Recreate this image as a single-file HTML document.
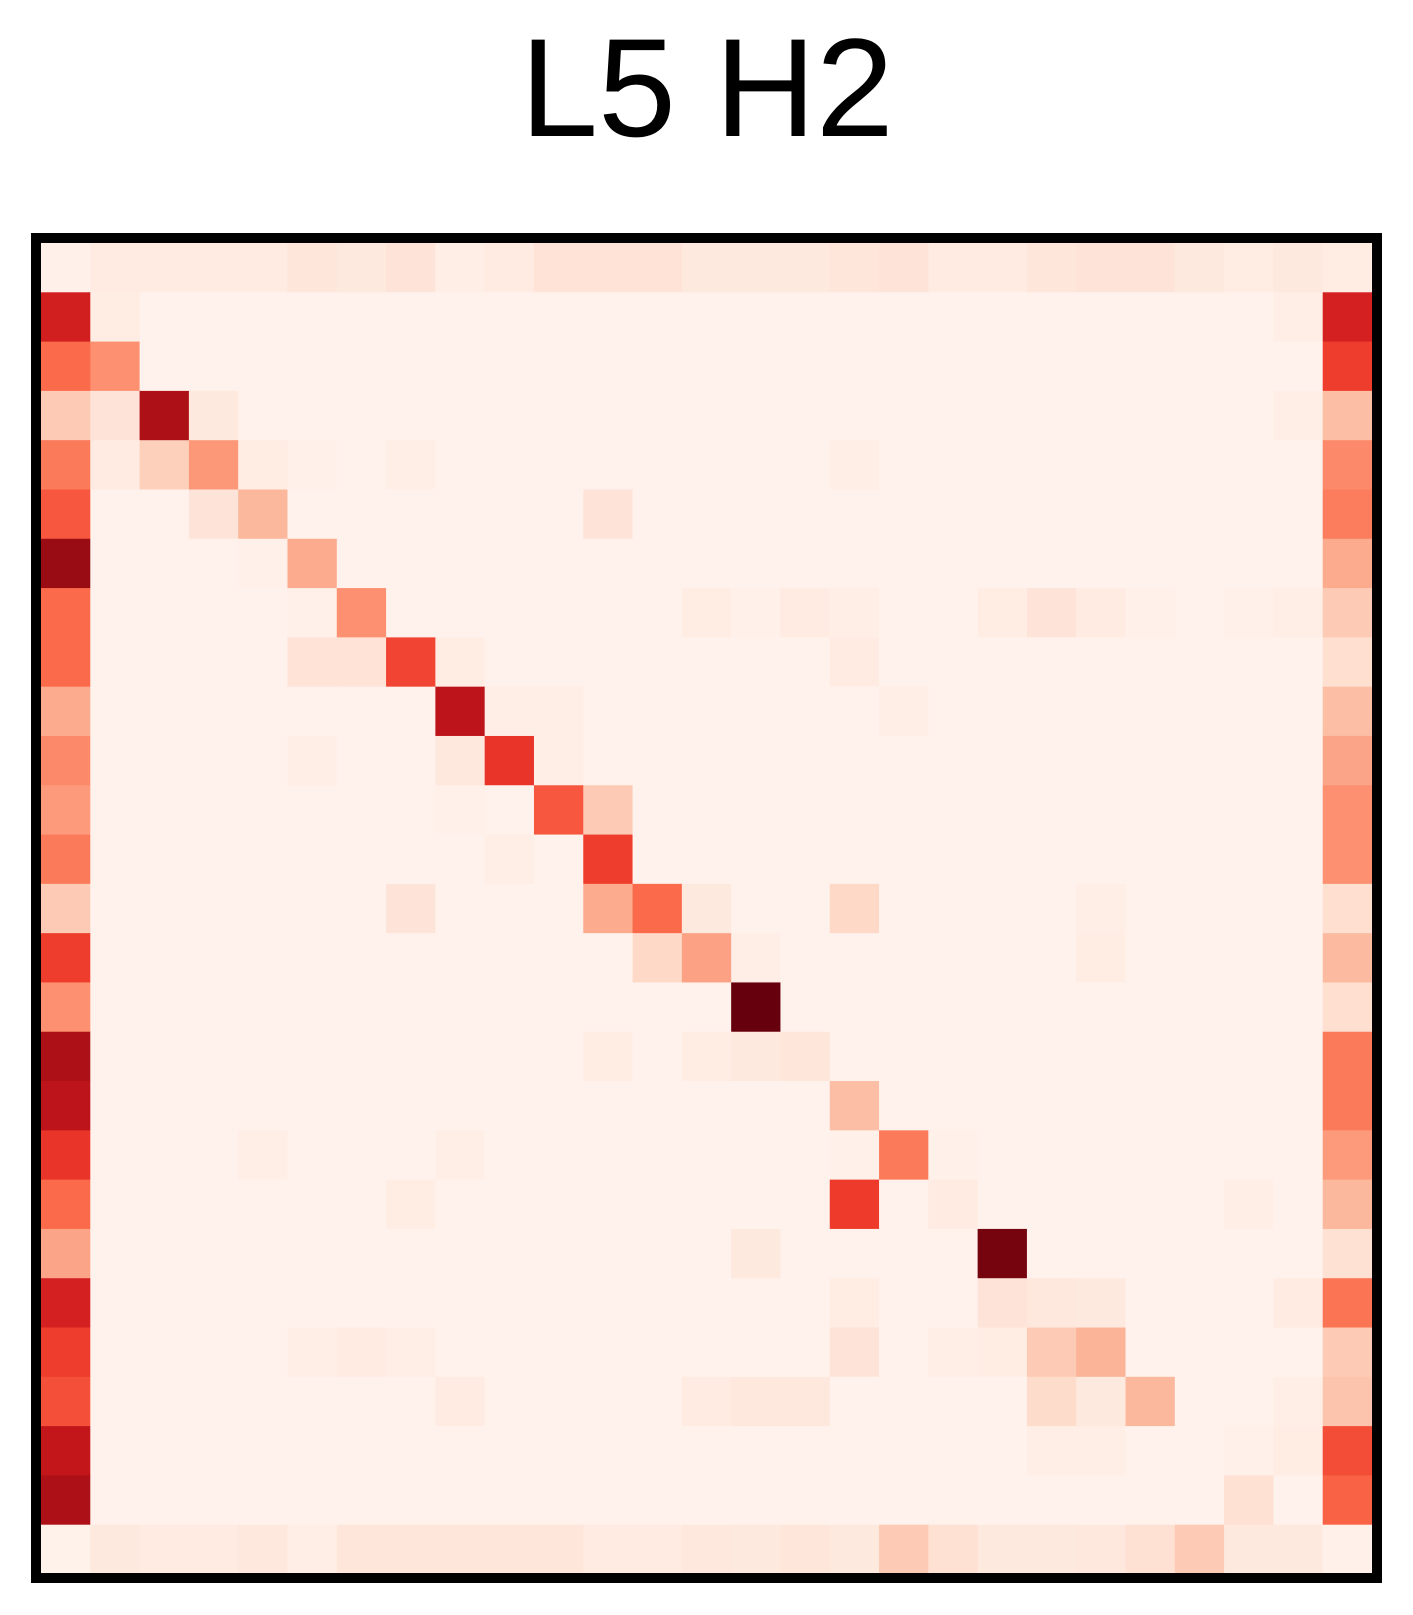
<!DOCTYPE html>
<html>
<head>
<meta charset="utf-8">
<style>
  html, body { margin: 0; padding: 0; background: #ffffff; }
  body { width: 1413px; height: 1615px; overflow: hidden; }
  svg { display: block; }
</style>
</head>
<body>
<svg id="chart" width="1413" height="1615" viewBox="0 0 1413 1615" xmlns="http://www.w3.org/2000/svg">
  <text x="707" y="136" text-anchor="middle" font-family="Liberation Sans, sans-serif" font-size="140" fill="#000">L5 H2</text>
  <g id="cells"></g>
  <rect x="36" y="238" width="1341" height="1340" fill="none" stroke="#000" stroke-width="10"/>
</svg>
<script>
const gridSize = 27;
const baseValue = 0.015;
const topRowValues = [0.03,0.06,0.06,0.06,0.06,0.09,0.07,0.1,0.04,0.06,0.11,0.11,0.11,0.07,0.07,0.07,0.09,0.1,0.06,0.06,0.09,0.1,0.1,0.07,0.05,0.07,0.05];
const bottomRowValues = [0.02,0.07,0.06,0.06,0.08,0.04,0.09,0.09,0.09,0.09,0.09,0.06,0.06,0.08,0.07,0.09,0.07,0.2,0.12,0.07,0.07,0.08,0.12,0.2,0.07,0.07,0.03];
const firstColValues = [0.73,0.5,0.2,0.45,0.55,0.9,0.5,0.5,0.3,0.4,0.35,0.45,0.2,0.62,0.38,0.85,0.8,0.65,0.5,0.32,0.72,0.62,0.57,0.78,0.85];
const lastColValues = [0.72,0.62,0.24,0.4,0.44,0.3,0.2,0.13,0.24,0.32,0.38,0.38,0.13,0.25,0.13,0.45,0.45,0.35,0.26,0.12,0.47,0.2,0.22,0.58,0.52];
const otherCells = [
  [1,1,0.05],[1,25,0.04],
  [2,1,0.38],
  [3,1,0.1],[3,2,0.85],[3,3,0.07],[3,25,0.04],
  [4,1,0.06],[4,2,0.18],[4,3,0.36],[4,4,0.05],[4,5,0.03],[4,7,0.04],[4,16,0.04],
  [5,3,0.1],[5,4,0.26],[5,11,0.1],
  [6,4,0.03],[6,5,0.3],
  [7,5,0.03],[7,6,0.38],[7,13,0.05],[7,14,0.03],[7,15,0.06],[7,16,0.04],[7,19,0.05],[7,20,0.1],[7,21,0.06],[7,22,0.03],[7,24,0.03],[7,25,0.04],
  [8,5,0.11],[8,6,0.11],[8,7,0.6],[8,8,0.05],[8,16,0.06],
  [9,8,0.8],[9,9,0.04],[9,10,0.04],[9,17,0.04],
  [10,5,0.04],[10,8,0.08],[10,9,0.65],[10,10,0.04],
  [11,8,0.03],[11,10,0.55],[11,11,0.2],
  [12,9,0.04],[12,11,0.62],
  [13,7,0.1],[13,11,0.3],[13,12,0.5],[13,13,0.07],[13,16,0.15],[13,21,0.04],
  [14,12,0.15],[14,13,0.33],[14,14,0.04],[14,21,0.05],
  [15,14,1.0],
  [16,11,0.05],[16,13,0.05],[16,14,0.07],[16,15,0.09],
  [17,16,0.24],
  [18,4,0.04],[18,8,0.04],[18,16,0.03],[18,17,0.45],[18,18,0.03],
  [19,7,0.05],[19,16,0.63],[19,18,0.06],[19,24,0.04],
  [20,14,0.07],[20,19,0.97],
  [21,16,0.05],[21,19,0.1],[21,20,0.08],[21,21,0.07],[21,25,0.06],
  [22,5,0.04],[22,6,0.06],[22,7,0.04],[22,16,0.1],[22,18,0.04],[22,19,0.05],[22,20,0.2],[22,21,0.27],
  [23,8,0.06],[23,13,0.06],[23,14,0.08],[23,15,0.08],[23,20,0.14],[23,21,0.07],[23,22,0.26],[23,25,0.04],
  [24,20,0.04],[24,21,0.04],[24,24,0.03],[24,25,0.05],
  [25,24,0.12]
];

const reds = ['#fff5f0','#fee0d2','#fcbba1','#fc9272','#fb6a4a','#ef3b2c','#cb181d','#a50f15','#67000d'];
function hex(h){return [1,3,5].map(i=>parseInt(h.substr(i,2),16));}
function colorFor(v){
  v=Math.max(0,Math.min(1,v));
  const p=v*(reds.length-1), i=Math.min(reds.length-2,Math.floor(p)), t=p-i;
  const a=hex(reds[i]), b=hex(reds[i+1]);
  return 'rgb('+a.map((x,k)=>Math.round(x+(b[k]-x)*t)).join(',')+')';
}
const x0=41, y0=243, span=1331;
function xPos(c){return x0+c*span/gridSize;}
function yPos(r){return y0+r*span/gridSize;}

const M=[];
for(let r=0;r<gridSize;r++){M.push(new Array(gridSize).fill(baseValue));}
topRowValues.forEach((v,c)=>{M[0][c]=v;});
bottomRowValues.forEach((v,c)=>{M[gridSize-1][c]=v;});
firstColValues.forEach((v,i)=>{M[i+1][0]=v;});
lastColValues.forEach((v,i)=>{M[i+1][gridSize-1]=v;});
otherCells.forEach(([r,c,v])=>{M[r][c]=v;});

const g=document.getElementById('cells');
const NS='http://www.w3.org/2000/svg';
for(let r=0;r<gridSize;r++){
  for(let c=0;c<gridSize;c++){
    const rect=document.createElementNS(NS,'rect');
    rect.setAttribute('x',xPos(c));
    rect.setAttribute('y',yPos(r));
    rect.setAttribute('width',xPos(c+1)-xPos(c)+0.5);
    rect.setAttribute('height',yPos(r+1)-yPos(r)+0.5);
    rect.setAttribute('fill',colorFor(M[r][c]));
    
    
    g.appendChild(rect);
  }
}
</script>
</body>
</html>
